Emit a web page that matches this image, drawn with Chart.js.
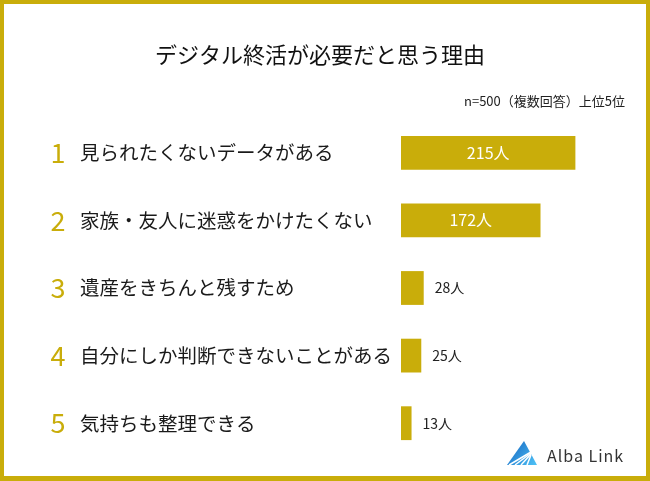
<!DOCTYPE html>
<html>
<head>
<meta charset="utf-8">
<script src="https://cdn.jsdelivr.net/npm/chart.js@4"></script>
<style>
  html, body { margin: 0; padding: 0; background: #fff; }
  canvas { display: block; }
</style>
</head>
<body>
<canvas id="reasonChart" width="650" height="481"></canvas>
<script>
// Data
const ranks = ["1", "2", "3", "4", "5"];
const categories = [
  "見られたくないデータがある",
  "家族・友人に迷惑をかけたくない",
  "遺産をきちんと残すため",
  "自分にしか判断できないことがある",
  "気持ちも整理できる",
];
const counts = [215, 172, 28, 25, 13];
const unit = "人";

const chartTitle = "デジタル終活が必要だと思う理由";
const chartNote = "n=500（複数回答）上位5位";

const GOLD = "#c9ad0a";
const FONT = "'Noto Sans CJK JP', 'Noto Sans', sans-serif";

// Title, frame, labels, values and logo
const decorations = {
  id: "decorations",
  afterDraw(chart) {
    const ctx = chart.ctx;
    const yScale = chart.scales.y;
    const bars = chart.getDatasetMeta(0).data;
    ctx.save();

    // frame
    ctx.strokeStyle = GOLD;
    ctx.lineWidth = 4;
    ctx.strokeRect(2, 2, 646, 476);
    ctx.fillStyle = GOLD;
    ctx.fillRect(0, 476, 650, 5);

    // title + note
    ctx.fillStyle = "#111";
    ctx.textAlign = "center";
    ctx.textBaseline = "middle";
    ctx.font = "22px " + FONT;
    ctx.fillText(chartTitle, 320, 55);
    ctx.font = "13px " + FONT;
    ctx.textAlign = "right";
    ctx.fillStyle = "#222";
    ctx.fillText(chartNote, 625, 101);

    categories.forEach((label, i) => {
      const y = yScale.getPixelForValue(i);
      // rank number
      ctx.textAlign = "center";
      ctx.fillStyle = GOLD;
      ctx.font = "27px " + FONT;
      ctx.fillText(ranks[i], 58, y);
      // category text
      ctx.textAlign = "left";
      ctx.fillStyle = "#1a1a1a";
      ctx.font = "19.5px " + FONT;
      ctx.fillText(label, 80, y);

      // value
      const bar = bars[i];
      const text = counts[i] + unit;
      if (bar.x - bar.base > 80) {
        ctx.textAlign = "center";
        ctx.fillStyle = "#fff";
        ctx.font = "16px " + FONT;
        ctx.fillText(text, (bar.x + bar.base) / 2, y);
      } else {
        ctx.textAlign = "left";
        ctx.fillStyle = "#222";
        ctx.font = "14px " + FONT;
        ctx.fillText(text, bar.x + 11, y);
      }
    });

    // logo
    const grad = ctx.createLinearGradient(508, 442, 536, 466);
    grad.addColorStop(0, "#1565c0");
    grad.addColorStop(1, "#4fc3f7");
    ctx.fillStyle = grad;
    ctx.beginPath();
    ctx.moveTo(524, 441);
    ctx.lineTo(507, 465);
    ctx.lineTo(537, 465);
    ctx.closePath();
    ctx.fill();
    ctx.strokeStyle = "#fff";
    ctx.lineWidth = 1.5;
    for (let k = 0; k < 4; k++) {
      ctx.beginPath();
      ctx.moveTo(531, 452 + k * 1);
      ctx.lineTo(509 + k * 6, 465);
      ctx.stroke();
    }
    ctx.fillStyle = "#333";
    ctx.textAlign = "left";
    ctx.font = "16px " + FONT;
    ctx.letterSpacing = "1px";
    ctx.fillText("Alba Link", 547, 456);
    ctx.restore();
  },
};

new Chart(document.getElementById("reasonChart"), {
  type: "bar",
  data: {
    labels: categories,
    datasets: [
      {
        data: counts,
        backgroundColor: GOLD,
        borderWidth: 0,
        categoryPercentage: 1,
        barPercentage: 0.5,
      },
    ],
  },
  options: {
    indexAxis: "y",
    responsive: false,
    devicePixelRatio: 1,
    animation: false,
    layout: {
      padding: { left: 401, right: 30, top: 119, bottom: 24 },
    },
    plugins: {
      legend: { display: false },
      tooltip: { enabled: false },
    },
    scales: {
      x: { display: false, min: 0, max: 270 },
      y: { display: false },
    },
  },
  plugins: [decorations],
});
</script>
</body>
</html>
